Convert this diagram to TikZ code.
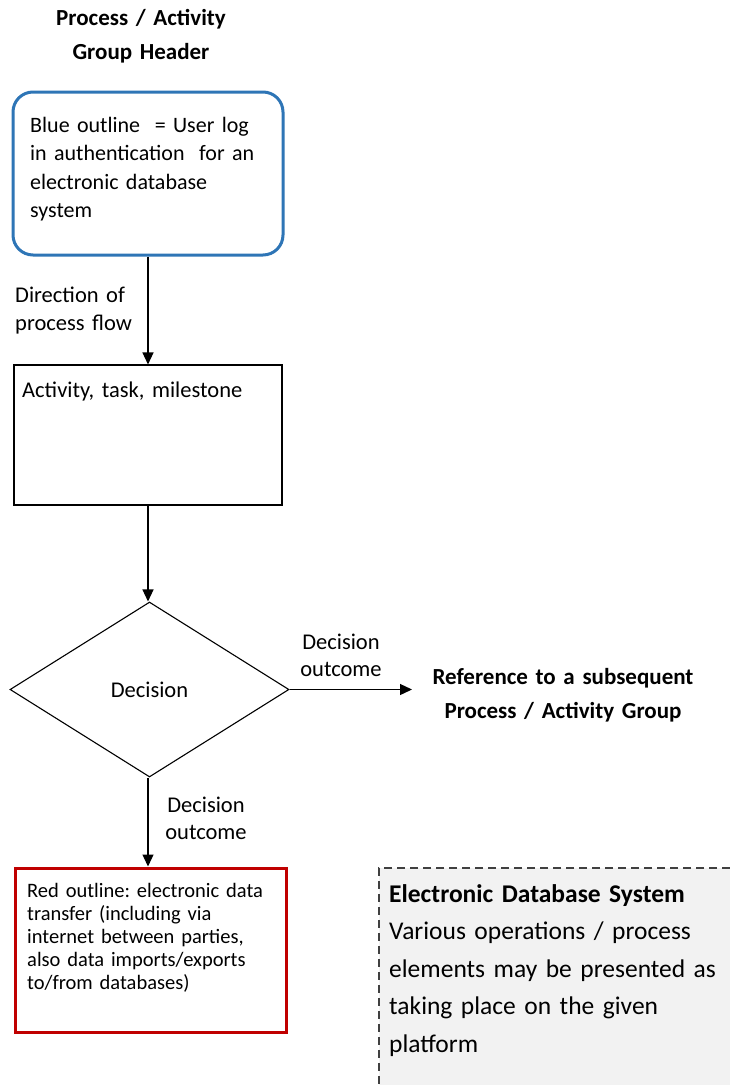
\documentclass[tikz,border=0pt]{standalone}
\usepackage{fontspec}
\setmainfont{Carlito}
\usetikzlibrary{arrows.meta,shapes.geometric}
\frenchspacing

\definecolor{outlineblue}{RGB}{46,117,182}
\definecolor{outlinered}{RGB}{192,0,0}
\definecolor{platformgray}{RGB}{242,242,242}
\definecolor{dashgray}{RGB}{64,64,64}

\tikzset{
  flow/.style={draw=black, line width=1.3pt, -{Triangle[length=12pt,width=11pt]}},
  loginbox/.style={draw=outlineblue, line width=3pt, rounded corners=20pt, minimum width=270pt, minimum height=163pt, inner sep=0pt},
  taskbox/.style={draw=black, line width=1.1pt, minimum width=268pt, minimum height=140pt, inner sep=0pt},
  decidebox/.style={diamond, draw=black, line width=1.1pt, minimum width=279pt, minimum height=175pt, inner sep=0pt},
  transferbox/.style={draw=outlinered, line width=3pt, minimum width=271pt, minimum height=164pt, inner sep=0pt},
  platformbox/.style={draw=dashgray, fill=platformgray, line width=2pt, dash pattern=on 8pt off 5pt, minimum width=361pt, minimum height=227pt, inner sep=0pt},
  plaintext/.style={inner sep=0pt, anchor=base west, align=left, font=\fontsize{22.5}{28.5}\selectfont},
  labeltext/.style={inner sep=0pt, anchor=base, align=center, font=\fontsize{22.5}{27.5}\selectfont},
  headtext/.style={inner sep=0pt, anchor=base, align=center, font=\fontsize{23}{34}\selectfont\bfseries}
}

\begin{document}
\begin{tikzpicture}[x=1pt,y=1pt,yscale=-1]
\useasboundingbox (0,0) rectangle (729,1085);

%Shape: Dashed Rectangle [id:platform]
\node [platformbox] (platform) at (559.5,981.5) {};
%Shape: Rounded Rectangle [id:login]
\node [loginbox] (login) at (148,173.5) {};
%Shape: Rectangle [id:task]
\node [taskbox] (task) at (148,435) {};
%Shape: Diamond [id:decide]
\node [decidebox] (decide) at (149.5,689.5) {};
%Shape: Rectangle [id:transfer]
\node [transferbox] (transfer) at (150.5,950) {};
\coordinate (refin) at (412,689.5);

%Straight Lines [id:flows]
\draw [flow] (login.south) -- (task.north);
\draw [flow] (task.south) -- (decide.north -| task.south);
\draw [flow] (decide.east) -- (refin);
\draw [flow] (decide.south -| task.south) -- (transfer.north -| task.south);

% Text Node
\node [headtext, text width=230pt] (head) at (141,25) {Process / Activity\\Group Header};
% Text Node
\node [plaintext, text width=240pt, font=\fontsize{22}{28.5}\selectfont] (logintext) at (30,132) {Blue outline \ = User log\\in authentication \ for an\\electronic database\\system};
% Text Node
\node [plaintext, text width=140pt] (dirtext) at (15,302) {Direction of\\process flow};
% Text Node
\node [plaintext, text width=250pt] (tasktext) at (22,397) {Activity, task, milestone};
% Text Node
\node [font=\fontsize{22.5}{27.5}\selectfont, inner sep=0pt] (decidetext) at (decide.center) {Decision};
% Text Node
\node [labeltext, text width=120pt] (outright) at (341,649) {Decision\\outcome};
% Text Node
\node [headtext, text width=290pt] (ref) at (563,684) {Reference to a subsequent\\Process / Activity Group};
% Text Node
\node [labeltext, text width=120pt] (outdown) at (206,812) {Decision\\outcome};
% Text Node
\node [plaintext, text width=255pt, font=\fontsize{20.5}{23}\selectfont] (transfertext) at (27,897) {Red outline: electronic data\\transfer (including via\\internet between parties,\\also data imports/exports\\to/from databases)};
% Text Node
\node [plaintext, text width=335pt, font=\fontsize{25.5}{37.5}\selectfont] (platformtext) at (389,902) {\textbf{Electronic Database System}\\Various operations / process\\elements may be presented as\\taking place on the given\\platform};

\end{tikzpicture}
\end{document}
